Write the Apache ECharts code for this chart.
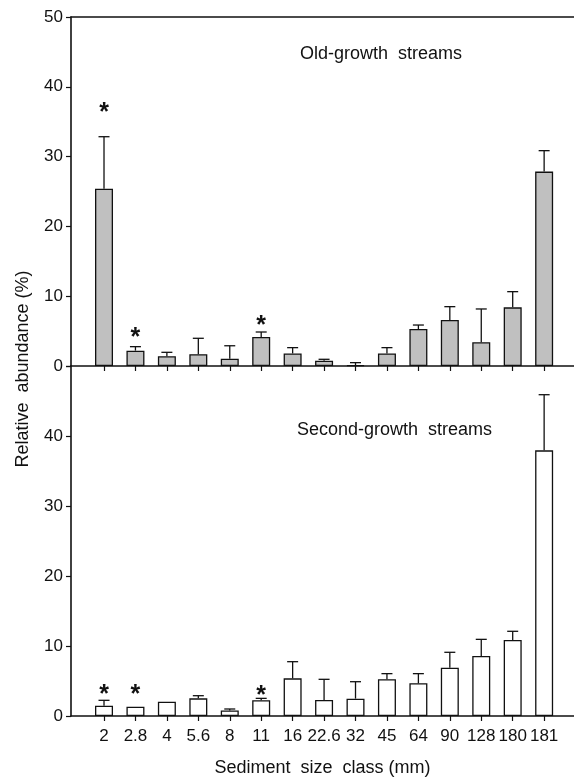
<!DOCTYPE html>
<html>
<head>
<meta charset="utf-8">
<script src="https://cdn.jsdelivr.net/npm/echarts@6/dist/echarts.min.js"></script>
<style>html,body{margin:0;padding:0;background:#fff;}#c{width:574px;height:784px;}</style>
</head>
<body>
<div id="c"></div>
<script>
const categories = ['2','2.8','4','5.6','8','11','16','22.6','32','45','64','90','128','180','181'];
const oldMean    = [25.4, 2.2, 1.4, 1.7, 1.05, 4.15, 1.8, 0.76, 0.12, 1.8, 5.3, 6.6, 3.4, 8.4, 27.85];
const oldErrTop  = [32.85, 2.77, 1.96, 3.97, 2.9, 4.87, 2.63, 0.96, 0.48, 2.63, 5.87, 8.5, 8.17, 10.65, 30.85];
const oldStars   = [36.8, 4.5, null, null, null, 6.35, null, null, null, null, null, null, null, null, null];
const secondMean   = [1.48, 1.33, 2.05, 2.52, 0.78, 2.24, 5.38, 2.29, 2.48, 5.24, 4.67, 6.9, 8.57, 10.86, 37.95];
const secondErrTop = [2.24, null, null, 2.9, 1.0, 2.52, 7.76, 5.24, 4.9, 6.05, 6.05, 9.1, 10.95, 12.1, 45.9];
const secondStars  = [3.57, 3.57, null, null, null, 3.48, null, null, null, null, null, null, null, null, null];

const FONT = '"Liberation Sans", Arial, sans-serif';
const INK = '#111';
const positions = categories.map((c, i) => i + 1);

function barData(vals) { return vals.map((v, i) => [i + 1, v]); }
function errData(vals, tops) {
  const out = [];
  tops.forEach((t, i) => { if (t != null) out.push([i + 1, vals[i], t]); });
  return out;
}
function starData(stars) {
  const out = [];
  stars.forEach((s, i) => { if (s != null) out.push([i + 1, s]); });
  return out;
}
function errRender(params, api) {
  const x = api.value(0), y = api.value(1), e = api.value(2);
  const p0 = api.coord([x, y]);
  const p1 = api.coord([x, e]);
  const st = { stroke: INK, lineWidth: 1.3 };
  return { type: 'group', children: [
    { type: 'line', shape: { x1: p0[0], y1: p0[1], x2: p1[0], y2: p1[1] }, style: st },
    { type: 'line', shape: { x1: p1[0] - 5.5, y1: p1[1], x2: p1[0] + 5.5, y2: p1[1] }, style: st }
  ]};
}
function starRender(params, api) {
  const p = api.coord([api.value(0), api.value(1)]);
  return { type: 'text', x: p[0], y: p[1] + 4, style: {
    text: '*', textAlign: 'center', textVerticalAlign: 'middle',
    font: 'bold 25px ' + FONT, fill: INK } };
}

function xAxisCfg(gridIndex, showLabels, name) {
  return {
    type: 'value', gridIndex: gridIndex, min: -0.05, max: 15.95, position: 'bottom',
    axisLine: { show: true, onZero: false, lineStyle: { color: INK, width: 1.6 } },
    axisTick: { show: true, inside: false, length: 5, customValues: positions, lineStyle: { color: INK, width: 1.2 } },
    axisLabel: { show: showLabels, customValues: positions, margin: 12,
      formatter: v => categories[Math.round(v) - 1] || '',
      fontSize: 17, color: INK, fontFamily: FONT },
    splitLine: { show: false },
    name: name, nameLocation: 'middle', nameGap: 43,
    nameTextStyle: { fontSize: 18, color: INK, fontFamily: FONT }
  };
}
function yAxisCfg(gridIndex, hideTop) {
  return {
    type: 'value', gridIndex: gridIndex, min: 0, max: 50, interval: 10, position: 'left',
    axisLine: { show: true, onZero: false, lineStyle: { color: INK, width: 1.6 } },
    axisTick: { show: true, inside: false, length: 5, lineStyle: { color: INK, width: 1.2 } },
    axisLabel: { margin: 8, fontSize: 17, color: INK, fontFamily: FONT,
      formatter: v => (hideTop && v === 50) ? '' : String(v) },
    splitLine: { show: false }
  };
}

const chart = echarts.init(document.getElementById('c'), null, { renderer: 'canvas' });
chart.setOption({
  animation: false,
  backgroundColor: '#fff',
  title: [
    { text: 'Old-growth  streams', left: 300, top: 45, padding: 0,
      textStyle: { fontSize: 18, fontWeight: 'normal', color: INK, fontFamily: FONT } },
    { text: 'Second-growth  streams', left: 297, top: 421, padding: 0,
      textStyle: { fontSize: 18, fontWeight: 'normal', color: INK, fontFamily: FONT } }
  ],
  graphic: [
    { type: 'text', x: 23, y: 369, rotation: Math.PI / 2,
      style: { text: 'Relative  abundance (%)', textAlign: 'center', textVerticalAlign: 'middle',
        font: '18px ' + FONT, fill: INK } }
  ],
  grid: [
    { left: 71, right: 0, top: 17, height: 349 },
    { left: 71, right: 0, top: 366, height: 350 }
  ],
  xAxis: [
    xAxisCfg(0, false, ''),
    xAxisCfg(1, true, 'Sediment  size  class (mm)'),
    { type: 'value', gridIndex: 0, min: -0.05, max: 15.95, position: 'top',
      axisLine: { show: true, onZero: false, lineStyle: { color: INK, width: 1.6 } },
      axisTick: { show: false }, axisLabel: { show: false }, splitLine: { show: false } }
  ],
  yAxis: [ yAxisCfg(0, false), yAxisCfg(1, true) ],
  series: [
    { type: 'bar', xAxisIndex: 0, yAxisIndex: 0, data: barData(oldMean), barWidth: 18,
      itemStyle: { color: '#c0c0c0', borderColor: INK, borderWidth: 1.3 } },
    { type: 'custom', xAxisIndex: 0, yAxisIndex: 0, data: errData(oldMean, oldErrTop),
      renderItem: errRender, encode: { x: 0, y: [1, 2] }, z: 3 },
    { type: 'custom', xAxisIndex: 0, yAxisIndex: 0, data: starData(oldStars),
      renderItem: starRender, encode: { x: 0, y: 1 }, z: 3 },
    { type: 'bar', xAxisIndex: 1, yAxisIndex: 1, data: barData(secondMean), barWidth: 18,
      itemStyle: { color: '#ffffff', borderColor: INK, borderWidth: 1.3 } },
    { type: 'custom', xAxisIndex: 1, yAxisIndex: 1, data: errData(secondMean, secondErrTop),
      renderItem: errRender, encode: { x: 0, y: [1, 2] }, z: 3 },
    { type: 'custom', xAxisIndex: 1, yAxisIndex: 1, data: starData(secondStars),
      renderItem: starRender, encode: { x: 0, y: 1 }, z: 3 }
  ]
});
</script>
</body>
</html>
